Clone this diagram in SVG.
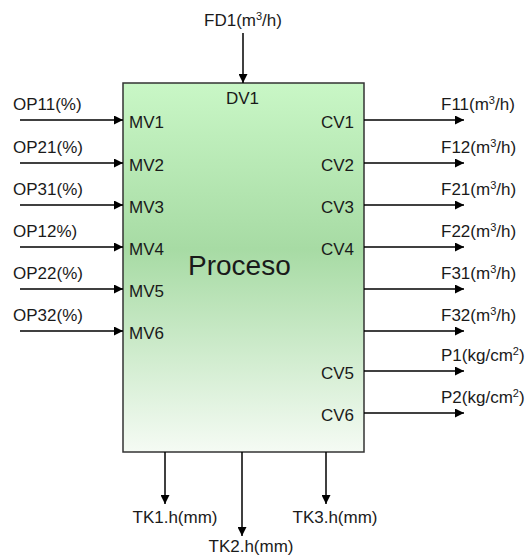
<svg xmlns="http://www.w3.org/2000/svg" width="528" height="558" viewBox="0 0 528 558">
<defs>
<linearGradient id="g" x1="0" y1="0" x2="0" y2="1">
<stop offset="0" stop-color="#c9f7c6"/>
<stop offset="0.45" stop-color="#a7dba4"/>
<stop offset="1" stop-color="#f5fbf4"/>
</linearGradient>
<marker id="a" viewBox="0 0 10 10" refX="10" refY="5" markerWidth="9" markerHeight="9" markerUnits="userSpaceOnUse" orient="auto">
<path d="M0,0 L10,5 L0,10 z" fill="#000"/>
</marker>
<style>
text{font-family:"Liberation Sans",Arial,sans-serif;font-size:17px;fill:#1a1a1a}
.c line{stroke:#000;stroke-width:1.5;marker-end:url(#a)}
.s{font-size:11px}
.r{text-anchor:end}
.m{text-anchor:middle}
</style>
</defs>
<g id="proceso">
<rect x="123" y="83" width="241" height="369" fill="url(#g)" stroke="#333" stroke-width="1.5"/>
<text x="188" y="275" style="font-size:28px">Proceso</text>
<text x="226" y="104">DV1</text>
<text x="129" y="128">MV1</text>
<text x="129" y="171">MV2</text>
<text x="129" y="213">MV3</text>
<text x="129" y="255">MV4</text>
<text x="129" y="297">MV5</text>
<text x="129" y="339">MV6</text>
<text class="r" x="354" y="128">CV1</text>
<text class="r" x="354" y="171">CV2</text>
<text class="r" x="354" y="213">CV3</text>
<text class="r" x="354" y="255">CV4</text>
<text class="r" x="354" y="379">CV5</text>
<text class="r" x="354" y="421">CV6</text>
</g>
<g id="labels">
<text class="m" x="243" y="26">FD1(m<tspan class="s" dy="-6">3</tspan><tspan dy="6">/h)</tspan></text>
<text x="13" y="110">OP11(%)</text>
<text x="13" y="153">OP21(%)</text>
<text x="13" y="195">OP31(%)</text>
<text x="13" y="237">OP12%)</text>
<text x="13" y="279">OP22(%)</text>
<text x="13" y="321">OP32(%)</text>
<text x="441" y="110">F11(m<tspan class="s" dy="-6">3</tspan><tspan dy="6">/h)</tspan></text>
<text x="441" y="153">F12(m<tspan class="s" dy="-6">3</tspan><tspan dy="6">/h)</tspan></text>
<text x="441" y="195">F21(m<tspan class="s" dy="-6">3</tspan><tspan dy="6">/h)</tspan></text>
<text x="441" y="237">F22(m<tspan class="s" dy="-6">3</tspan><tspan dy="6">/h)</tspan></text>
<text x="441" y="279">F31(m<tspan class="s" dy="-6">3</tspan><tspan dy="6">/h)</tspan></text>
<text x="441" y="321">F32(m<tspan class="s" dy="-6">3</tspan><tspan dy="6">/h)</tspan></text>
<text x="441" y="361">P1(kg/cm<tspan class="s" dy="-6">2</tspan><tspan dy="6">)</tspan></text>
<text x="441" y="403">P2(kg/cm<tspan class="s" dy="-6">2</tspan><tspan dy="6">)</tspan></text>
<text class="m" x="175" y="523">TK1.h(mm)</text>
<text class="m" x="251" y="552">TK2.h(mm)</text>
<text class="m" x="335" y="523">TK3.h(mm)</text>
</g>
<g id="connectors" class="c">
<line x1="243" y1="33" x2="243" y2="83"/>
<line x1="20" y1="120" x2="123" y2="120"/>
<line x1="20" y1="163" x2="123" y2="163"/>
<line x1="20" y1="205" x2="123" y2="205"/>
<line x1="20" y1="247" x2="123" y2="247"/>
<line x1="20" y1="289" x2="123" y2="289"/>
<line x1="20" y1="331" x2="123" y2="331"/>
<line x1="364" y1="120" x2="464" y2="120"/>
<line x1="364" y1="163" x2="464" y2="163"/>
<line x1="364" y1="205" x2="464" y2="205"/>
<line x1="364" y1="247" x2="464" y2="247"/>
<line x1="364" y1="289" x2="464" y2="289"/>
<line x1="364" y1="331" x2="464" y2="331"/>
<line x1="364" y1="371" x2="464" y2="371"/>
<line x1="364" y1="413" x2="464" y2="413"/>
<line x1="165" y1="452" x2="165" y2="504"/>
<line x1="242" y1="452" x2="242" y2="536"/>
<line x1="326" y1="452" x2="326" y2="504"/>
</g>
</svg>
